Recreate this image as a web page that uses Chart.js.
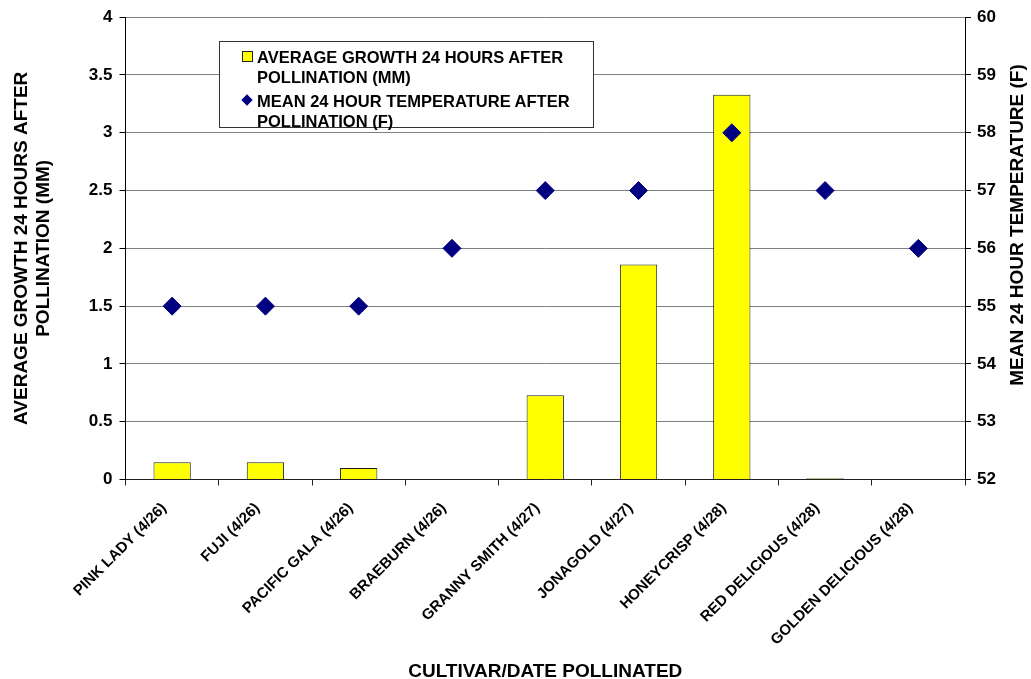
<!DOCTYPE html>
<html>
<head>
<meta charset="utf-8">
<script src="https://cdn.jsdelivr.net/npm/chart.js@4/dist/chart.umd.min.js"></script>
<style>
  html, body { margin: 0; padding: 0; background: #fff; }
  #wrap { position: relative; width: 1031px; height: 679px; }
  #legend {
    position: absolute; left: 219px; top: 41px; width: 375px; height: 87px;
    background: #fff; border: 1px solid #333; box-sizing: border-box;
    font-family: "Liberation Sans", Arial, sans-serif; font-weight: bold;
    font-size: 16.5px; line-height: 20px; color: #000;
  }
  .item { position: absolute; left: 37px; white-space: nowrap; }
  .mark { position: absolute; }
  .sq { left: -15px; top: 4px; width: 9px; height: 9px; background: #ffff00; border: 1px solid #222; }
  .dia { left: -14px; top: 5px; width: 8px; height: 8px; background: #000080; transform: rotate(45deg); }
</style>
</head>
<body>
<div id="wrap">
  <canvas id="chart"></canvas>
  <div id="legend">
    <div class="item" style="top:5px"><span class="mark sq"></span>AVERAGE GROWTH 24 HOURS AFTER<br>POLLINATION (MM)</div>
    <div class="item" style="top:49px"><span class="mark dia"></span>MEAN 24 HOUR TEMPERATURE AFTER<br>POLLINATION (F)</div>
  </div>
</div>
<script>
// Cultivars and the date each was pollinated
const cultivars = [
  'PINK LADY (4/26)', 'FUJI (4/26)', 'PACIFIC GALA (4/26)', 'BRAEBURN (4/26)',
  'GRANNY SMITH (4/27)', 'JONAGOLD (4/27)', 'HONEYCRISP (4/28)',
  'RED DELICIOUS (4/28)', 'GOLDEN DELICIOUS (4/28)'
];
// Average growth 24 hours after pollination (mm)
const growthMM = [0.15, 0.15, 0.10, 0, 0.73, 1.86, 3.33, 0.01, 0];
// Mean 24 hour temperature after pollination (F)
const tempF = [55, 55, 55, 56, 57, 57, 58, 57, 56];

const growthLabel = 'AVERAGE GROWTH 24 HOURS AFTER POLLINATION (MM)';
const tempLabel = 'MEAN 24 HOUR TEMPERATURE AFTER POLLINATION (F)';
const leftTitle = ['AVERAGE GROWTH 24 HOURS AFTER', 'POLLINATION (MM)'];
const rightTitle = 'MEAN 24 HOUR TEMPERATURE (F)';
const bottomTitle = 'CULTIVAR/DATE POLLINATED';

const FONT = '"Liberation Sans", Arial, sans-serif';
Chart.defaults.font.family = FONT;
Chart.defaults.color = '#000';

// Right-hand axis title, written bottom-to-top like the left one
const rightTitlePlugin = {
  id: 'rightTitle',
  afterDraw(chart) {
    const s = chart.scales.y2;
    const ctx = chart.ctx;
    ctx.save();
    ctx.translate(s.right - 13, 225);
    ctx.rotate(-Math.PI / 2);
    ctx.font = 'bold 19px ' + FONT;
    ctx.fillStyle = '#000';
    ctx.textAlign = 'center';
    ctx.textBaseline = 'middle';
    ctx.fillText(rightTitle, 0, 0);
    ctx.restore();
  }
};

new Chart(document.getElementById('chart'), {
  type: 'bar',
  data: {
    labels: cultivars,
    datasets: [
      {
        type: 'line',
        label: tempLabel,
        data: tempF,
        yAxisID: 'y2',
        showLine: false,
        pointStyle: 'rectRot',
        pointRadius: 9,
        pointHoverRadius: 9,
        backgroundColor: '#000080',
        borderColor: '#000080',
        order: 0
      },
      {
        type: 'bar',
        label: growthLabel,
        data: growthMM,
        yAxisID: 'y',
        backgroundColor: '#ffff00',
        borderColor: '#222',
        borderWidth: 1,
        categoryPercentage: 1,
        barPercentage: 0.4,
        order: 1
      }
    ]
  },
  plugins: [rightTitlePlugin],
  options: {
    responsive: true,
    maintainAspectRatio: false,
    animation: false,
    layout: { padding: { top: 17, right: 0, bottom: 0, left: 0 } },
    plugins: { legend: { display: false }, tooltip: { enabled: false } },
    scales: {
      x: {
        afterFit: s => { s.height = 199.5; },
        grid: { offset: true, drawOnChartArea: false, drawTicks: true, tickLength: 6, tickColor: '#222' },
        border: { color: '#222', width: 1 },
        ticks: { minRotation: 45, maxRotation: 45, autoSkip: false, padding: 14, labelOffset: -8,
                 font: { size: 15, weight: 'bold' } },
        title: { display: true, text: bottomTitle, font: { size: 19, weight: 'bold' },
                 padding: { top: 0, bottom: -4 } }
      },
      y: {
        position: 'left',
        min: 0, max: 4,
        afterFit: s => { s.width = 125.5; },
        ticks: { stepSize: 0.5, padding: 7, font: { size: 17, weight: 'bold' },
                 callback: v => String(Number(v)) },
        grid: { color: '#808080', tickColor: '#000', tickLength: 6 },
        border: { color: '#000', width: 1 },
        title: { display: true, text: leftTitle, font: { size: 19, weight: 'bold' },
                 padding: { top: 10, bottom: 0 } }
      },
      y2: {
        position: 'right',
        min: 52, max: 60,
        afterFit: s => { s.width = 66; },
        ticks: { stepSize: 1, padding: 6, font: { size: 17, weight: 'bold' } },
        grid: { drawOnChartArea: false, tickColor: '#000', tickLength: 6 },
        border: { color: '#000', width: 1 },
        title: { display: false }
      }
    }
  }
});
</script>
</body>
</html>
